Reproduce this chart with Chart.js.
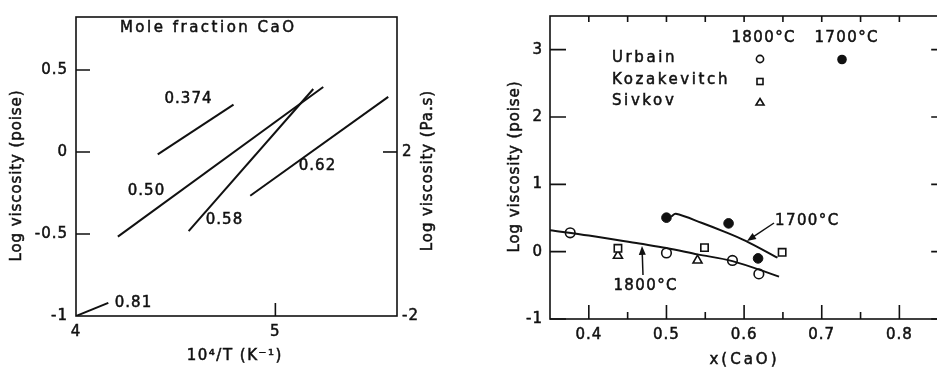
<!DOCTYPE html>
<html>
<head>
<meta charset="utf-8">
<script src="https://cdn.jsdelivr.net/npm/chart.js@4.4.1/dist/chart.umd.min.js"></script>
<style>
  html, body { margin: 0; padding: 0; background: #fff; overflow: hidden; width: 937px; height: 371px; }
  canvas { position: absolute; top: 0; }
  #leftChart { left: 0; }
  #rightChart { left: 470px; }
</style>
</head>
<body>
<canvas id="leftChart" width="470" height="371"></canvas>
<canvas id="rightChart" width="475" height="371"></canvas>
<script>
// left panel: log viscosity against 10^4/T, one line per mole fraction CaO
var fractions = ['0.374', '0.50', '0.58', '0.62', '0.81'];
var invTemp = [[4.41, 4.79], [4.21, 5.24], [4.565, 5.19], [4.874, 5.566], [4.0, 4.162]];
var logVisc = [[-0.015, 0.289], [-0.516, 0.396], [-0.483, 0.384], [-0.267, 0.336], [-1.0, -0.92]];
var leftXTicks = [4, 5];
var leftYTicks = [-1, -0.5, 0, 0.5];
var pasTicks = [-2, 2];

// right panel: log viscosity against x(CaO)
var urbain1800X = [0.376, 0.50, 0.585, 0.619];
var urbain1800Y = [0.28, -0.02, -0.13, -0.33];
var kozakX = [0.4375, 0.549, 0.649];
var kozakY = [0.05, 0.06, -0.01];
var sivkovX = [0.4375, 0.54];
var sivkovY = [-0.06, -0.13];
var urbain1700X = [0.50, 0.58, 0.618];
var urbain1700Y = [0.505, 0.42, -0.10];
var fit1800X = [0.35, 0.40, 0.465, 0.50, 0.54, 0.585, 0.645];
var fit1800Y = [0.32, 0.24, 0.12, 0.055, -0.04, -0.14, -0.37];
var fit1700X = [0.506, 0.512, 0.545, 0.576, 0.602, 0.643];
var fit1700Y = [0.52, 0.562, 0.43, 0.29, 0.16, -0.09];
var rightXTicks = [0.4, 0.5, 0.6, 0.7, 0.8];
var rightXMinor = [0.45, 0.55, 0.65, 0.75];
var rightYTicks = [-1, 0, 1, 2, 3];

var INK = '#111';
var FONT = '"DejaVu Sans", sans-serif';
var FS = 15;

function pts(xs, ys) {
    return xs.map(function (x, i) { return { x: x, y: ys[i] }; });
}

function fixedTicks(values) {
    return function (scale) {
        scale.ticks = values.map(function (v) { return { value: v }; });
    };
}

function drawText(ctx, s, x, y, size, spacing, align, rot) {
    ctx.save();
    ctx.font = size + 'px ' + FONT;
    ctx.letterSpacing = spacing + 'px';
    ctx.fillStyle = INK;
    ctx.strokeStyle = INK;
    ctx.lineWidth = 0.5;
    ctx.textBaseline = 'middle';
    ctx.textAlign = 'left';
    ctx.translate(x, y);
    if (rot) ctx.rotate(rot);
    var w = ctx.measureText(s).width - spacing;
    var dx = align === 'left' ? 0 : (align === 'right' ? -w : -w / 2);
    ctx.fillText(s, dx, 0);
    ctx.strokeText(s, dx, 0);
    ctx.restore();
}

function tickMarks(chart, scaleId, values, edge, len) {
    var ctx = chart.ctx, a = chart.chartArea, s = chart.scales[scaleId];
    ctx.save();
    ctx.strokeStyle = INK;
    ctx.lineWidth = 1.6;
    ctx.beginPath();
    values.forEach(function (v) {
        var p = s.getPixelForValue(v);
        if (edge === 'left') { ctx.moveTo(a.left, p); ctx.lineTo(a.left + len, p); }
        if (edge === 'right') { ctx.moveTo(a.right, p); ctx.lineTo(a.right - len, p); }
        if (edge === 'bottom') { ctx.moveTo(p, a.bottom); ctx.lineTo(p, a.bottom - len); }
        if (edge === 'top') { ctx.moveTo(p, a.top); ctx.lineTo(p, a.top + len); }
    });
    ctx.stroke();
    ctx.restore();
}

function frame(chart) {
    var ctx = chart.ctx, a = chart.chartArea;
    ctx.save();
    ctx.strokeStyle = INK;
    ctx.lineWidth = 1.6;
    ctx.strokeRect(a.left, a.top, a.right - a.left, a.bottom - a.top);
    ctx.restore();
}

function arrow(ctx, x1, y1, x2, y2) {
    var ang = Math.atan2(y2 - y1, x2 - x1);
    ctx.save();
    ctx.strokeStyle = INK;
    ctx.fillStyle = INK;
    ctx.lineWidth = 1.5;
    ctx.beginPath();
    ctx.moveTo(x1, y1);
    ctx.lineTo(x2 - 6 * Math.cos(ang), y2 - 6 * Math.sin(ang));
    ctx.stroke();
    ctx.translate(x2, y2);
    ctx.rotate(ang);
    ctx.beginPath();
    ctx.moveTo(0, 0);
    ctx.lineTo(-9, -3.5);
    ctx.lineTo(-9, 3.5);
    ctx.closePath();
    ctx.fill();
    ctx.restore();
}

// a little letter spacing for the library's own tick labels
var spacingPlugin = {
    id: 'spacing',
    beforeDraw: function (chart) { chart.ctx.letterSpacing = '1px'; }
};

function tickOpts(pad) {
    return {
        color: INK, font: { family: FONT, size: FS }, padding: pad,
        textStrokeColor: INK, textStrokeWidth: 0.5,
        maxRotation: 0, autoSkip: false,
        callback: function (v) { return String(v); }
    };
}

var leftDecor = {
    id: 'leftDecor',
    afterDraw: function (chart) {
        var ctx = chart.ctx;
        frame(chart);
        tickMarks(chart, 'y', [-0.5, 0, 0.5], 'left', 14);
        tickMarks(chart, 'x', [5], 'bottom', 13);
        tickMarks(chart, 'y2', [2], 'right', 14);
        drawText(ctx, 'Mole fraction CaO', 207, 28, FS, 2.5, 'center');
        drawText(ctx, '0.374', 188, 99, FS, 1, 'center');
        drawText(ctx, '0.50', 146, 191, FS, 1, 'center');
        drawText(ctx, '0.58', 224, 220, FS, 1, 'center');
        drawText(ctx, '0.62', 317, 166, FS, 1, 'center');
        drawText(ctx, '0.81', 133, 303, FS, 1, 'center');
        drawText(ctx, 'Log viscosity (poise)', 17, 176, FS, 0.9, 'center', -Math.PI / 2);
        drawText(ctx, 'Log viscosity (Pa.s)', 428, 171, FS, 0.9, 'center', -Math.PI / 2);
        drawText(ctx, '10\u2074/T (K\u207B\u00B9)', 234, 356, FS, 1.5, 'center');
    }
};

var rightDecor = {
    id: 'rightDecor',
    afterDraw: function (chart) {
        var ctx = chart.ctx;
        frame(chart);
        tickMarks(chart, 'y', rightYTicks, 'left', 16);
        tickMarks(chart, 'y', rightYTicks, 'right', 7);
        tickMarks(chart, 'x', rightXTicks, 'bottom', 14);
        tickMarks(chart, 'x', rightXMinor, 'bottom', 7);
        tickMarks(chart, 'x', rightXTicks.concat(rightXMinor), 'top', 6);

        // legend block
        drawText(ctx, '1800\u00B0C', 293, 38, FS, 1.4, 'center');
        drawText(ctx, '1700\u00B0C', 376, 38, FS, 1.4, 'center');
        drawText(ctx, 'Urbain', 142, 58, FS, 2.6, 'left');
        drawText(ctx, 'Kozakevitch', 142, 80, FS, 2.6, 'left');
        drawText(ctx, 'Sivkov', 142, 101, FS, 2.6, 'left');
        ctx.save();
        ctx.strokeStyle = INK;
        ctx.fillStyle = INK;
        ctx.lineWidth = 1.6;
        ctx.beginPath(); ctx.arc(290, 59, 3.6, 0, Math.PI * 2); ctx.stroke();
        ctx.strokeRect(287, 78.5, 6, 6);
        ctx.beginPath(); ctx.moveTo(290, 98.5); ctx.lineTo(294, 105); ctx.lineTo(286, 105); ctx.closePath(); ctx.stroke();
        ctx.beginPath(); ctx.arc(372, 59.5, 4.8, 0, Math.PI * 2); ctx.fill();
        ctx.restore();

        // curve labels
        drawText(ctx, '1700\u00B0C', 305, 221, FS, 1.4, 'left');
        arrow(ctx, 304, 223, 277, 241);
        drawText(ctx, '1800\u00B0C', 175, 286, FS, 1.4, 'center');
        arrow(ctx, 173, 275, 172, 246);

        drawText(ctx, 'Log viscosity (poise)', 45, 167, FS, 0.9, 'center', -Math.PI / 2);
        drawText(ctx, 'x(CaO)', 273, 360, FS, 3, 'center');
    }
};

var leftSets = fractions.map(function (f, i) {
    return {
        label: f,
        data: pts(invTemp[i], logVisc[i]),
        showLine: true,
        borderColor: INK,
        borderWidth: 2,
        pointRadius: 0
    };
});

new Chart(document.getElementById('leftChart').getContext('2d'), {
    type: 'scatter',
    data: { datasets: leftSets },
    options: {
        responsive: false,
        animation: false,
        layout: { padding: { top: 6, left: 0, right: 0, bottom: 0 } },
        plugins: { legend: { display: false }, tooltip: { enabled: false } },
        scales: {
            x: {
                type: 'linear', min: 4, max: 5.61,
                afterBuildTicks: fixedTicks(leftXTicks),
                afterFit: function (s) { s.height = 55; },
                grid: { display: false, drawTicks: false },
                border: { display: false },
                ticks: tickOpts(7)
            },
            y: {
                type: 'linear', position: 'left', min: -1, max: 0.823,
                afterBuildTicks: fixedTicks(leftYTicks),
                afterFit: function (s) { s.width = 76; },
                grid: { display: false, drawTicks: false },
                border: { display: false },
                ticks: tickOpts(8)
            },
            y2: {
                type: 'linear', position: 'right', min: -2, max: 5.292,
                afterBuildTicks: fixedTicks(pasTicks),
                afterFit: function (s) { s.width = 73; },
                grid: { display: false, drawTicks: false },
                border: { display: false },
                ticks: tickOpts(5)
            }
        }
    },
    plugins: [spacingPlugin, leftDecor]
});

new Chart(document.getElementById('rightChart').getContext('2d'), {
    type: 'scatter',
    data: {
        datasets: [
            { label: 'fit 1800', data: pts(fit1800X, fit1800Y), showLine: true, cubicInterpolationMode: 'monotone',
              borderColor: INK, borderWidth: 2, pointRadius: 0 },
            { label: 'fit 1700', data: pts(fit1700X, fit1700Y), showLine: true, tension: 0.3,
              borderColor: INK, borderWidth: 2, pointRadius: 0, borderJoinStyle: 'round' },
            { label: 'Urbain 1800', data: pts(urbain1800X, urbain1800Y), pointStyle: 'circle', pointRadius: 4.8,
              backgroundColor: '#fff', borderColor: INK, borderWidth: 1.6 },
            { label: 'Kozakevitch', data: pts(kozakX, kozakY), pointStyle: 'rect', pointRadius: 5.2,
              backgroundColor: '#fff', borderColor: INK, borderWidth: 1.6 },
            { label: 'Sivkov', data: pts(sivkovX, sivkovY), pointStyle: 'triangle', pointRadius: 5.2,
              backgroundColor: '#fff', borderColor: INK, borderWidth: 1.6 },
            { label: 'Urbain 1700', data: pts(urbain1700X, urbain1700Y), pointStyle: 'circle', pointRadius: 4.8,
              backgroundColor: INK, borderColor: INK, borderWidth: 1 }
        ]
    },
    options: {
        responsive: false,
        animation: false,
        layout: { padding: { top: 8, left: 0, right: 5, bottom: 0 } },
        plugins: { legend: { display: false }, tooltip: { enabled: false } },
        scales: {
            x: {
                type: 'linear', min: 0.35, max: 0.85,
                afterBuildTicks: fixedTicks(rightXTicks),
                afterFit: function (s) { s.height = 52; },
                grid: { display: false, drawTicks: false },
                border: { display: false },
                ticks: tickOpts(7)
            },
            y: {
                type: 'linear', position: 'left', min: -1, max: 3.5,
                afterBuildTicks: fixedTicks(rightYTicks),
                afterFit: function (s) { s.width = 80; },
                grid: { display: false, drawTicks: false },
                border: { display: false },
                ticks: tickOpts(7)
            }
        }
    },
    plugins: [spacingPlugin, rightDecor]
});
</script>
</body>
</html>
